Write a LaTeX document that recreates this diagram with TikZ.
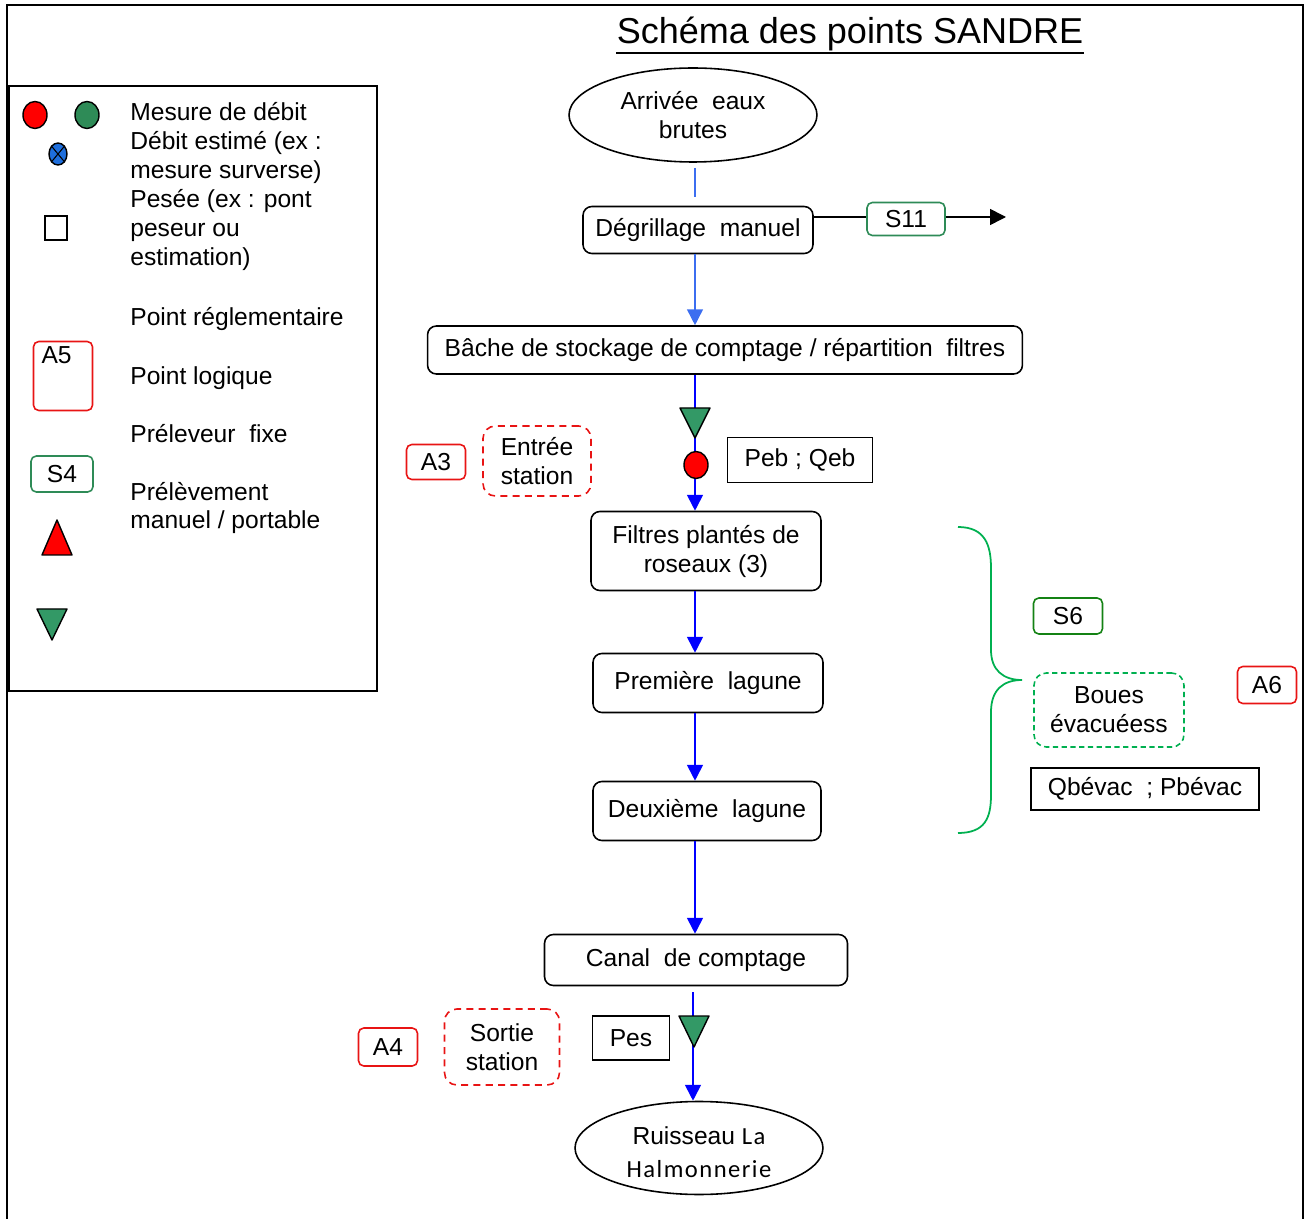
\documentclass[tikz,border=0pt]{standalone}
\usepackage{fontspec}
\setmainfont{Liberation Sans}
\newfontfamily\calfont[LetterSpace=6]{Carlito}
\usepackage{tikz}
\usetikzlibrary{arrows.meta,positioning,shapes.geometric}

\definecolor{ptred}{RGB}{232,20,20}
\definecolor{ptteal}{RGB}{46,139,87}
\definecolor{dgreen}{RGB}{20,130,20}
\definecolor{bgreen}{RGB}{0,176,80}
\definecolor{trigreen}{RGB}{51,153,102}
\definecolor{lblue}{RGB}{60,110,240}
\definecolor{fblue}{RGB}{0,0,255}
\definecolor{xblue}{RGB}{30,110,220}

\newcommand{\tx}{\fontsize{14}{16.5}\selectfont}

\begin{document}
\begin{tikzpicture}[x=0.02cm, y=-0.02cm,
  proc/.style={draw, rounded corners=5pt, line width=0.9pt,
               font=\tx, align=center, inner sep=2pt},
  src/.style={draw, ellipse, line width=0.9pt, font=\tx, align=center,
              minimum width=4.96cm, minimum height=1.88cm, inner sep=0pt},
  ptA/.style={draw=ptred, rounded corners=3pt, line width=0.9pt,
              font=\tx, inner sep=2pt},
  ptS/.style={draw=ptteal, rounded corners=3pt, line width=0.9pt,
              font=\tx, inner sep=2pt},
  zone/.style={draw=ptred, dash pattern=on 4pt off 3pt, rounded corners=7pt,
               line width=0.9pt, font=\tx, align=center, inner sep=2pt},
  param/.style={draw, line width=0.9pt, font=\tx, inner sep=2pt},
  leg/.style={font=\tx, anchor=west, inner sep=0pt},
  dot/.style={draw, ellipse, line width=0.8pt, inner sep=0pt,
              minimum width=0.48cm, minimum height=0.54cm},
  tri/.style={draw, fill=trigreen, line width=0.8pt, line join=round},
  feed/.style={line width=0.9pt, color=lblue},
  flow/.style={-{Triangle[length=9pt,width=9pt]}, line width=1pt, color=fblue},
]
\useasboundingbox (0,0) rectangle (1309,1219);

%% ---- Frame and title ----
\draw[line width=0.6pt] (7,1225) -- (7,5) -- (1303,5) -- (1303,1225);
\node[font=\fontsize{20.5}{24}\selectfont, inner sep=0pt] (ttl) at (850,34)
  {Schéma des points SANDRE};
\draw[line width=1.2pt] ([yshift=-1pt]ttl.south west) -- ([yshift=-1pt]ttl.south east);

%% ---- Legend ----
\draw[line width=1pt] (9,86) rectangle (377,691);
\node[dot, fill=red] (lr) at (35,115) {};
\node[dot, fill=ptteal] (lg) at (87,115) {};
\node[dot, fill=xblue, minimum width=0.36cm, minimum height=0.44cm] (lx) at (58,154) {};
\draw[line width=0.6pt] (lx.north west) -- (lx.south east)
                        (lx.north east) -- (lx.south west);
\node[draw, line width=0.8pt, minimum width=0.44cm, minimum height=0.48cm] (lsq) at (56,228) {};
\node[ptA, minimum width=1.18cm, minimum height=1.38cm,
      label={[font=\tx, anchor=north west, inner sep=0pt, xshift=0.17cm, yshift=-0.12cm]north west:A5}]
  (la5) at (63,376) {};
\node[ptS, minimum width=1.24cm, minimum height=0.72cm] (ls4) at (62,474) {S4};
\draw[tri, fill=red] (42,555) -- (57,520) -- (72,555) -- cycle;
\draw[tri] (37,609) -- (67,609) -- (52,640) -- cycle;

\node[leg, anchor=north west, align=left] (ltx) at (130,102)
  {Mesure de débit\\Débit estimé (ex :\\mesure surverse)\\Pesée (ex : pont\\peseur ou\\estimation)};
\node[leg] (lreg) at (130,319) {Point réglementaire};
\node[leg] (llog) at (130,378) {Point logique};
\node[leg] (lfix) at (130,434) {Préleveur\ \ fixe};
\node[leg, align=left] (lman) at (130,508) {Prélèvement\\manuel / portable};

%% ---- Main line ----
\node[src] (arr) at (693,115) {Arrivée\ \ eaux\\brutes};
\node[proc, minimum width=4.6cm, minimum height=0.94cm] (deg) at (698,230) {Dégrillage\ \ manuel};
\node[proc, minimum width=11.9cm, minimum height=0.96cm] (bac) at (725,350)
  {Bâche de stockage de comptage / répartition\ \ filtres};
\node[proc, minimum width=4.6cm, minimum height=1.58cm] (fil) at (706,551)
  {Filtres plantés de\\roseaux (3)};
\node[proc, minimum width=4.6cm, minimum height=1.18cm] (lg1) at (708,683) {Première\ \ lagune};
\node[proc, minimum width=4.56cm, minimum height=1.18cm] (lg2) at (707,811) {Deuxième\ \ lagune};
\node[proc, minimum width=6.06cm, minimum height=1.02cm] (can) at (696,960) {Canal\ \ de comptage};
\node[src, minimum height=1.86cm] (rui) at (699,1148)
  {\rule{0pt}{15pt}Ruisseau {\calfont La}\\[2pt]{\calfont Halmonnerie}};

\coordinate (ax) at (695,0);
\coordinate (bx) at (693,0);
\draw[feed] (arr.south -| ax) -- (deg.north -| ax) [shorten <=0.1cm, shorten >=0.18cm];
\draw[feed, -{Triangle[length=9pt,width=9pt]}] (deg.south -| ax) -- (bac.north -| ax);
\draw[flow] (bac.south -| ax) -- (fil.north -| ax);
\draw[flow] (fil.south -| ax) -- (lg1.north -| ax);
\draw[flow] (lg1.south -| ax) -- (lg2.north -| ax);
\draw[flow] (lg2.south -| ax) -- (can.north -| ax);
\draw[flow, shorten <=0.12cm] (can.south -| bx) -- (rui.north -| bx);

%% ---- Screenings ----
\node[ptS, minimum width=1.56cm, minimum height=0.66cm] (s11) at (906,219) {S11};
\coordinate (s11out) at (1006,217);
\draw[line width=0.9pt] (deg.east |- s11out) -- (s11.west |- s11out);
\draw[line width=0.9pt, -{Triangle[length=9pt,width=9pt]}] (s11.east |- s11out) -- (s11out);

%% ---- Inlet point ----
\draw[tri] (680,408) -- (710,408) -- (695,438) -- cycle;
\node[dot, fill=red] (qeb) at (696,465) {};
\node[ptA, minimum width=1.18cm, minimum height=0.7cm] (a3) at (436,462) {A3};
\node[zone, minimum width=2.16cm, minimum height=1.4cm] (ent) at (537,461) {Entrée\\station};
\node[param, minimum width=2.9cm, minimum height=0.9cm] (peb) at (800,460) {Peb ; Qeb};

%% ---- Outlet point ----
\draw[tri] (679,1016) -- (709,1016) -- (694,1047) -- cycle;
\node[ptA, minimum width=1.18cm, minimum height=0.76cm] (a4) at (388,1047) {A4};
\node[zone, minimum width=2.3cm, minimum height=1.52cm] (sor) at (502,1047) {Sortie\\station};
\node[param, minimum width=1.54cm, minimum height=0.88cm] (pes) at (631,1038) {Pes};

%% ---- Sludge ----
\draw[bgreen, line width=1pt] (958,527) .. controls (985,527) and (991,545) .. (991,568)
  -- (991,650) .. controls (991,670) and (1003,680) .. (1022,680)
  .. controls (1003,680) and (991,690) .. (991,712)
  -- (991,795) .. controls (991,818) and (985,833) .. (958,833);
\node[ptS, draw=dgreen, minimum width=1.38cm, minimum height=0.72cm] (s6) at (1068,616) {S6};
\node[zone, draw=bgreen, dash pattern=on 3pt off 2pt, minimum width=3cm, minimum height=1.48cm]
  (bou) at (1109,710) {Boues\\évacuéess};
\node[ptA, minimum width=1.18cm, minimum height=0.74cm] (a6) at (1267,685) {A6};
\node[param, minimum width=4.56cm, minimum height=0.84cm] (qbe) at (1145,789) {Qbévac\ \ ; Pbévac};

\end{tikzpicture}
\end{document}
